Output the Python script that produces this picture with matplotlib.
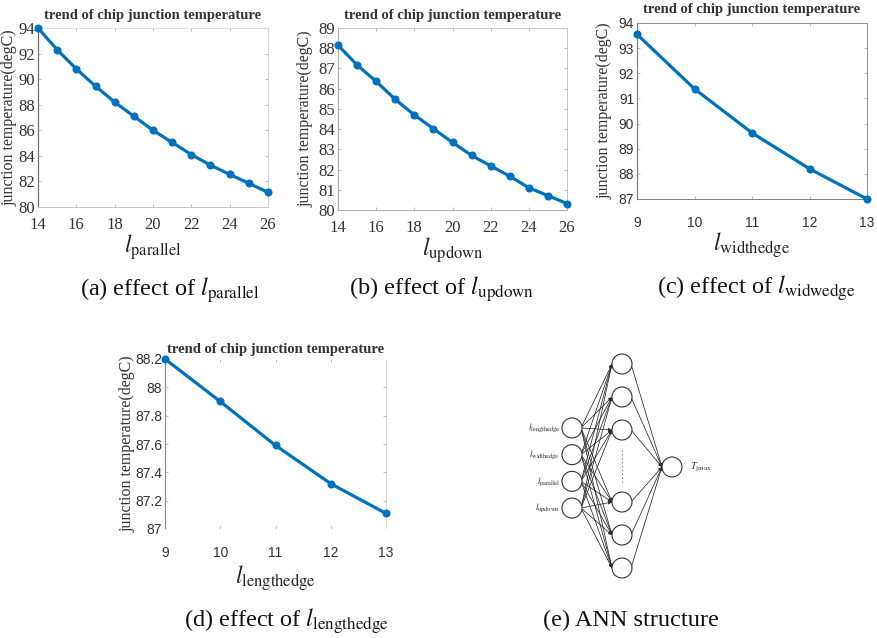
import matplotlib
matplotlib.use("Agg")
import matplotlib.pyplot as plt
from matplotlib.patches import Circle

plt.rcParams["font.family"] = ["Liberation Serif", "DejaVu Serif"]
plt.rcParams["mathtext.fontset"] = "stix"

# ---- data -------------------------------------------------------------
x_parallel = [14, 15, 16, 17, 18, 19, 20, 21, 22, 23, 24, 25, 26]
t_parallel = [94.0, 92.3, 90.8, 89.45, 88.2, 87.1, 86.0, 85.05, 84.1, 83.27, 82.55, 81.85, 81.15]

x_updown = [14, 15, 16, 17, 18, 19, 20, 21, 22, 23, 24, 25, 26]
t_updown = [88.15, 87.17, 86.36, 85.47, 84.7, 84.02, 83.34, 82.7, 82.18, 81.67, 81.1, 80.71, 80.32]

x_widthedge = [9, 10, 11, 12, 13]
t_widthedge = [93.55, 91.38, 89.63, 88.2, 87.0]

x_lengthedge = [9, 10, 11, 12, 13]
t_lengthedge = [88.2, 87.9, 87.59, 87.32, 87.11]

yticks_a = [80, 82, 84, 86, 88, 90, 92, 94]
yticks_b = [80, 81, 82, 83, 84, 85, 86, 87, 88, 89]
yticks_c = [87, 88, 89, 90, 91, 92, 93, 94]
yticks_d = [87.0, 87.2, 87.4, 87.6, 87.8, 88.0, 88.2]
ylabels_d = ["87", "87.2", "87.4", "87.6", "87.8", "88", "88.2"]
xticks_ab = [14, 16, 18, 20, 22, 24, 26]
xticks_cd = [9, 10, 11, 12, 13]

ann_inputs = [r"$l_{\mathrm{lengthedge}}$", r"$l_{\mathrm{widthedge}}$",
              r"$l_{\mathrm{parallel}}$", r"$l_{\mathrm{updown}}$"]
ann_output = r"$T_{\mathrm{jmax}}$"
ann_hidden_top = 3      # hidden nodes drawn above the ellipsis
ann_hidden_bottom = 3   # hidden nodes drawn below the ellipsis

# ---- figure -----------------------------------------------------------
W, H = 877, 638
fig = plt.figure(figsize=(W / 100, H / 100), dpi=100)
BLUE = "#0072BD"


def frac_box(left, top, right, bottom):
    return [left / W, 1 - bottom / H, (right - left) / W, (bottom - top) / H]


panels = [
    dict(x=x_parallel, y=t_parallel, box=(38, 28, 268, 207), xlim=(14, 26), ylim=(80, 94),
         xt=xticks_ab, yt=yticks_a, ytl=[str(v) for v in yticks_a], tickfont="Liberation Serif",
         tsize=12, xlab=r"$l_{\mathrm{parallel}}$", xlab_y=247, tick_y=221, ylab_x=9,
         title_y=15, caption=r"(a) effect of $l_{\mathrm{parallel}}$", cap=(170, 290),
         spine=dict(left="#707070", bottom="#c8c8c8", top="#e0e0e0", right="#d0d0d0")),
    dict(x=x_updown, y=t_updown, box=(338, 28, 567, 210), xlim=(14, 26), ylim=(80, 89),
         xt=xticks_ab, yt=yticks_b, ytl=[str(v) for v in yticks_b], tickfont="Liberation Serif",
         tsize=12, xlab=r"$l_{\mathrm{updown}}$", xlab_y=250, tick_y=224, ylab_x=305,
         title_y=16, caption=r"(b) effect of $l_{\mathrm{updown}}$", cap=(442, 289),
         spine=dict(left="#b0b0b0", bottom="#b0b0b0", top="#c8c8c8", right="#c8c8c8")),
    dict(x=x_widthedge, y=t_widthedge, box=(637, 23, 867, 199), xlim=(9, 13), ylim=(87, 94),
         xt=xticks_cd, yt=yticks_c, ytl=[str(v) for v in yticks_c], tickfont="Liberation Sans",
         tsize=10, xlab=r"$l_{\mathrm{widthedge}}$", xlab_y=245, tick_y=218, ylab_x=604,
         title_y=10, caption=r"(c) effect of $l_{\mathrm{widwedge}}$", cap=(756, 288),
         spine=dict(left="#808080", bottom="#808080", top="#909090", right="#909090")),
    dict(x=x_lengthedge, y=t_lengthedge, box=(165, 359, 386, 529), xlim=(9, 13), ylim=(87, 88.2),
         xt=xticks_cd, yt=yticks_d, ytl=ylabels_d, tickfont="Liberation Sans",
         tsize=10, xlab=r"$l_{\mathrm{lengthedge}}$", xlab_y=578, tick_y=548, ylab_x=127,
         title_y=349, caption=r"(d) effect of $l_{\mathrm{lengthedge}}$", cap=(286, 621),
         spine=dict(left="#909090", bottom="#ffffff", top="#ffffff", right="#d8d8d8")),
]

for p in panels:
    left, top, right, bottom = p["box"]
    ax = fig.add_axes(frac_box(left, top, right, bottom))
    ax.plot(p["x"], p["y"], color=BLUE, lw=2.3, marker="o", ms=4.8, clip_on=False, zorder=3)
    ax.set_xlim(*p["xlim"])
    ax.set_ylim(*p["ylim"])
    ax.set_xticks(p["xt"])
    ax.set_yticks(p["yt"])
    ax.set_yticklabels(p["ytl"])
    for lab in ax.get_xticklabels() + ax.get_yticklabels():
        lab.set_fontfamily(p["tickfont"])
        lab.set_fontsize(p["tsize"])
        lab.set_color("#333333")
    ax.tick_params(direction="in", length=2.5, width=0.6, color="#b0b0b0",
                   top=True, right=True, pad=2)
    ax.tick_params(axis="x", pad=(p["tick_y"] - bottom) - 7)
    for side, col in p["spine"].items():
        ax.spines[side].set_color(col)
        ax.spines[side].set_linewidth(0.9 if side == "left" else 0.7)
    ah = bottom - top
    aw = right - left
    ax.set_xlabel(p["xlab"], fontsize=17, va="center", color="#222222")
    ax.xaxis.set_label_coords(0.5, (bottom - p["xlab_y"]) / ah)
    ax.set_ylabel("junction temperature(degC)", fontsize=11.5, va="center", color="#333333")
    ax.yaxis.set_label_coords((p["ylab_x"] - left) / aw, 0.5)
    fig.text((left + right) / 2 / W, 1 - p["title_y"] / H,
             "trend of chip junction temperature", ha="center", va="center",
             fontsize=10.5, fontweight="bold", color="#333333")
    fig.text(p["cap"][0] / W, 1 - p["cap"][1] / H, p["caption"],
             ha="center", va="center", fontsize=17.5, color="#111111")

# ---- ANN structure diagram (drawn in pixel space) --------------------
ann = fig.add_axes([0, 0, 1, 1], zorder=-1)
ann.set_xlim(0, W)
ann.set_ylim(H, 0)
ann.axis("off")

r = 10
x_in, x_hid, x_out = 572, 622, 672
center_y = 468
in_step, hid_step, gap = 26.7, 33.0, 72.0

in_nodes = [(x_in, center_y + (i - (len(ann_inputs) - 1) / 2) * in_step)
            for i in range(len(ann_inputs))]
hid_nodes = []
top_start = center_y - gap / 2 - (ann_hidden_top - 1) * hid_step
for i in range(ann_hidden_top):
    hid_nodes.append((x_hid, top_start + i * hid_step - 2))
for i in range(ann_hidden_bottom):
    hid_nodes.append((x_hid, center_y + gap / 2 + i * hid_step - 2))
out_node = (x_out, center_y - 1)

arrow_kw = dict(arrowstyle="-|>", color="#2a2a2a", lw=0.55, mutation_scale=5,
                shrinkA=0, shrinkB=0)
for (xs, ys) in in_nodes:
    for (xh, yh) in hid_nodes:
        ann.annotate("", xy=(xh - r, yh), xytext=(xs + r * 0.9, ys), arrowprops=arrow_kw)
for (xh, yh) in hid_nodes:
    ann.annotate("", xy=(out_node[0] - r, out_node[1]), xytext=(xh + r * 0.9, yh),
                 arrowprops=arrow_kw)

for (cx, cy) in in_nodes + hid_nodes + [out_node]:
    ann.add_patch(Circle((cx, cy), r, facecolor="white", edgecolor="#333333", lw=0.8, zorder=4))

ellipsis_y0 = hid_nodes[ann_hidden_top - 1][1] + r + 10
ellipsis_y1 = hid_nodes[ann_hidden_top][1] - r - 10
ann.plot([x_hid, x_hid], [ellipsis_y0, ellipsis_y1], ls=(0, (1, 2.5)), lw=0.8, color="#555555")

for (cx, cy), lab in zip(in_nodes, ann_inputs):
    ann.text(cx - r - 2, cy, lab, ha="right", va="center", fontsize=6.5, color="#333333")
ann.text(out_node[0] + r + 8, out_node[1], ann_output, ha="left", va="center",
         fontsize=7.5, color="#333333")

fig.text(631 / W, 1 - 620 / H, "(e) ANN structure", ha="center", va="center",
         fontsize=17.5, color="#111111")

fig.savefig("out.png", dpi=100)
